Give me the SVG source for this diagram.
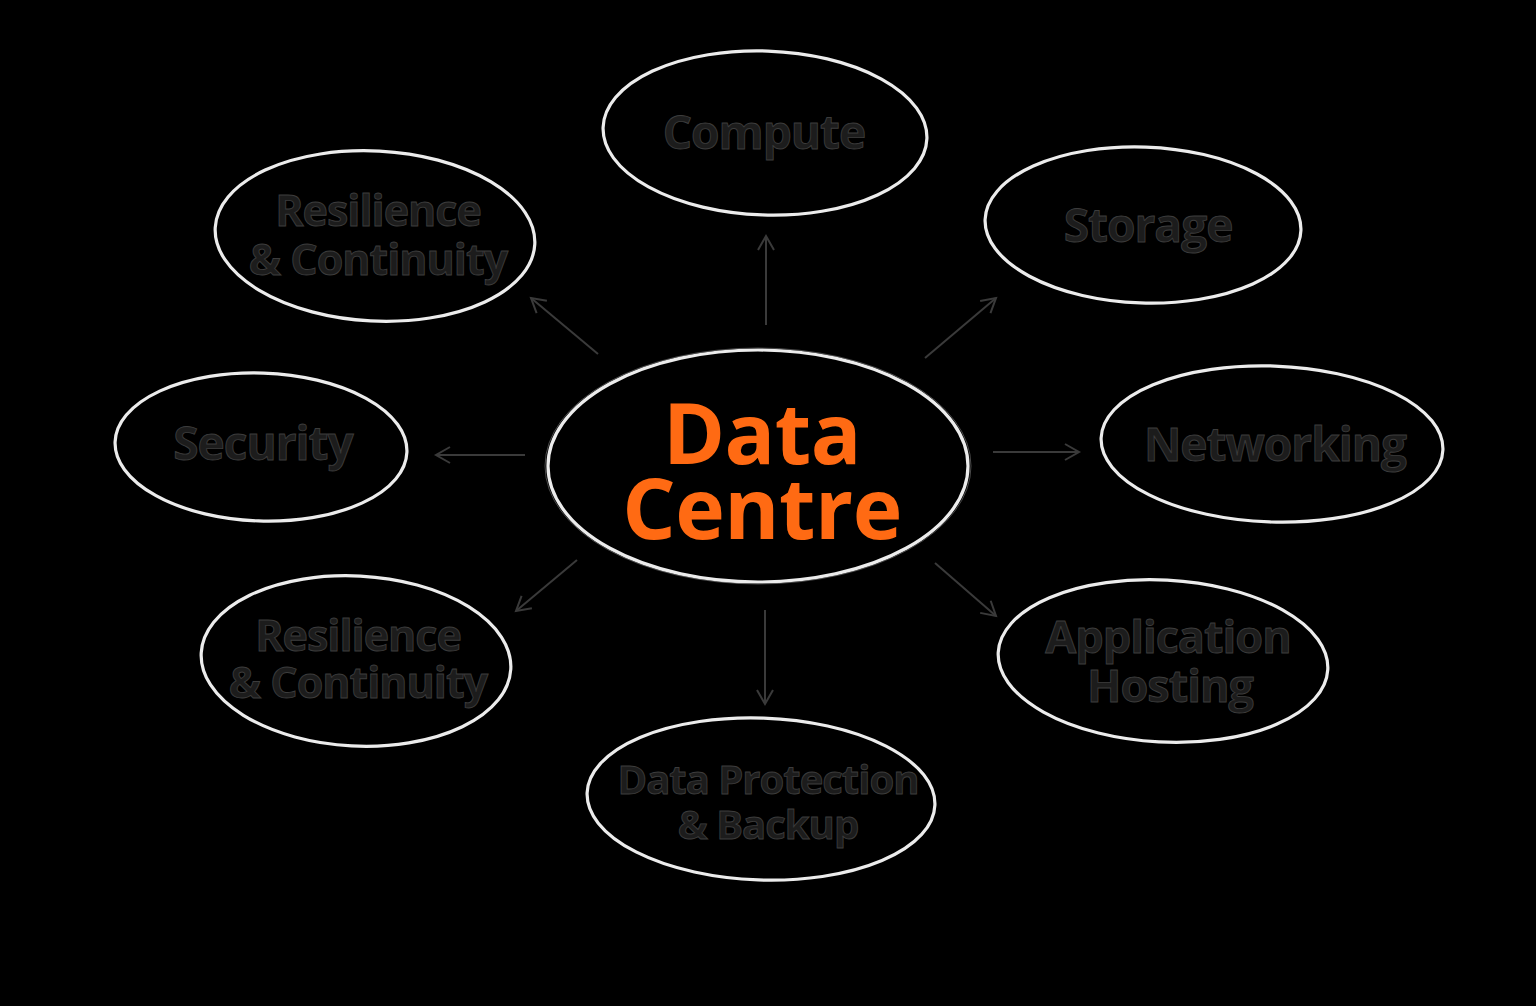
<svg xmlns="http://www.w3.org/2000/svg" width="1536" height="1006" viewBox="0 0 1536 1006">
<style>
.node{fill:#000;stroke:#ececec;stroke-width:3.2}
.node2{fill:none;stroke:#7a7a7a;stroke-width:1;opacity:.6}
.lbl{font-family:"Open Sans","Noto Sans",sans-serif;font-weight:700;fill:#1c1c1c;stroke:#3c3c3c;stroke-width:.9;text-anchor:middle;letter-spacing:-1px}
.main{font-family:"Open Sans","Noto Sans",sans-serif;font-weight:700;fill:#ff6a13;text-anchor:middle;font-size:84px;letter-spacing:-0.5px}
.conn line{stroke:#3a3a3a;stroke-width:2;fill:none;marker-end:url(#ah)}
</style>
<defs>
<marker id="ah" viewBox="0 0 20 20" refX="16" refY="10" markerWidth="20" markerHeight="20" markerUnits="userSpaceOnUse" orient="auto">
<path d="M2,2 L16,10 L2,18" fill="none" stroke="#3a3a3a" stroke-width="2"/>
</marker>
</defs>
<rect width="1536" height="1006" fill="#000"/>
<g id="connectors" class="conn">
<line x1="766" y1="325" x2="766" y2="236"/>
<line x1="925" y1="358" x2="996" y2="298"/>
<line x1="598" y1="354" x2="531" y2="298"/>
<line x1="525" y1="455" x2="436" y2="455"/>
<line x1="993" y1="452" x2="1079" y2="452"/>
<line x1="577" y1="560" x2="516" y2="611"/>
<line x1="935" y1="563" x2="996" y2="616"/>
<line x1="765" y1="610" x2="765" y2="704"/>
</g>
<g id="center">
<ellipse class="node" cx="758" cy="466" rx="210" ry="116"/>
<ellipse class="node2" cx="758" cy="466" rx="213" ry="118"/>
<text class="main"><tspan x="762" y="464">Data</tspan><tspan x="762" y="539">Centre</tspan></text>
</g>
<g id="compute">
<ellipse class="node" cx="765" cy="133" rx="162" ry="82" transform="rotate(2 765 133)"/>
<text class="lbl" x="764" y="149" font-size="46">Compute</text>
</g>
<g id="storage">
<ellipse class="node" cx="1143" cy="225" rx="158" ry="78" transform="rotate(2 1143 225)"/>
<text class="lbl" x="1148" y="242" font-size="46">Storage</text>
</g>
<g id="resilience-top">
<ellipse class="node" cx="375" cy="236" rx="160" ry="85" transform="rotate(3 375 236)"/>
<text class="lbl" font-size="43"><tspan x="378" y="226">Resilience</tspan><tspan x="378" y="275">&amp; Continuity</tspan></text>
</g>
<g id="security">
<ellipse class="node" cx="261" cy="447" rx="146" ry="74" transform="rotate(2 261 447)"/>
<text class="lbl" x="263" y="460" font-size="46">Security</text>
</g>
<g id="networking">
<ellipse class="node" cx="1272" cy="444" rx="171" ry="78" transform="rotate(2 1272 444)"/>
<text class="lbl" x="1275" y="461" font-size="46">Networking</text>
</g>
<g id="resilience-bottom">
<ellipse class="node" cx="356" cy="661" rx="155" ry="85" transform="rotate(3 356 661)"/>
<text class="lbl" font-size="43"><tspan x="358" y="651">Resilience</tspan><tspan x="358" y="698">&amp; Continuity</tspan></text>
</g>
<g id="app-hosting">
<ellipse class="node" cx="1163" cy="661" rx="165" ry="81" transform="rotate(3 1163 661)"/>
<text class="lbl" font-size="45"><tspan x="1168" y="653">Application</tspan><tspan x="1170" y="702">Hosting</tspan></text>
</g>
<g id="data-protection">
<ellipse class="node" cx="761" cy="799" rx="174" ry="81" transform="rotate(2 761 799)"/>
<text class="lbl" font-size="40"><tspan x="768" y="794">Data Protection</tspan><tspan x="768" y="839">&amp; Backup</tspan></text>
</g>
</svg>
